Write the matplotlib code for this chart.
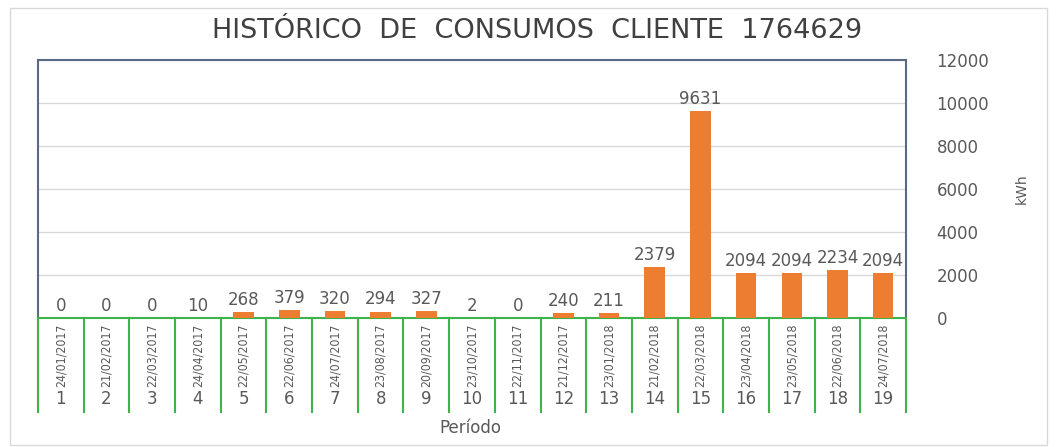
import matplotlib
matplotlib.use("Agg")
import matplotlib.pyplot as plt
from matplotlib.patches import Rectangle

periods = [str(i) for i in range(1, 20)]
dates = ["24/01/2017", "21/02/2017", "22/03/2017", "24/04/2017", "22/05/2017",
         "22/06/2017", "24/07/2017", "23/08/2017", "20/09/2017", "23/10/2017",
         "22/11/2017", "21/12/2017", "23/01/2018", "21/02/2018", "22/03/2018",
         "23/04/2018", "23/05/2018", "22/06/2018", "24/07/2018"]
consumo = [0, 0, 0, 10, 268, 379, 320, 294, 327, 2, 0, 240, 211, 2379, 9631,
           2094, 2094, 2234, 2094]
yticks = [0, 2000, 4000, 6000, 8000, 10000, 12000]

W, H = 1057, 447
fig = plt.figure(figsize=(W / 100, H / 100), dpi=100)
txt = "#595959"

def fx(px):
    return px / W

def fy(py):
    return 1 - py / H

# outer frame
fig.patches.append(Rectangle((fx(10), fy(445)), fx(1047) - fx(10), fy(8) - fy(445),
                             transform=fig.transFigure, fill=False,
                             edgecolor="#d9d9d9", linewidth=1))

left, right, top, bottom = 38, 906, 60, 318
ax = fig.add_axes([fx(left), fy(bottom), fx(right) - fx(left), fy(top) - fy(bottom)])
n = len(consumo)
x = list(range(n))
ax.bar(x, consumo, width=0.45, color="#ed7d31", zorder=3)
ax.set_xlim(-0.5, n - 0.5)
ax.set_ylim(0, 12000)
ax.set_yticks(yticks)
ax.yaxis.tick_right()
ax.tick_params(axis="y", length=0, pad=22, labelsize=12, labelcolor=txt)
ax.set_xticks([])
ax.grid(axis="y", color="#d9d9d9", linewidth=1, zorder=0)
for s in ["left", "top", "right"]:
    ax.spines[s].set_color("#5b6b85")
    ax.spines[s].set_linewidth(1.5)
ax.spines["bottom"].set_color("#3cb44b")
ax.spines["bottom"].set_linewidth(1.5)
ax.yaxis.set_label_position("right")
ax.set_ylabel("kWh", color=txt, fontsize=10, labelpad=18)

for xi, v in zip(x, consumo):
    ax.text(xi, v + 150, str(v), ha="center", va="bottom", fontsize=12,
            color=txt, zorder=4)

fig.text(fx(537), fy(31), "HISTÓRICO  DE  CONSUMOS  CLIENTE  1764629", fontsize=19.5,
         color="#404040", ha="center", va="center")

# category area
cbot = 412
ax2 = fig.add_axes([fx(left), fy(cbot), fx(right) - fx(left), fy(bottom) - fy(cbot)])
ax2.set_xlim(-0.5, n - 0.5)
ax2.set_ylim(0, 1)
ax2.axis("off")
for b in range(n + 1):
    ax2.axvline(b - 0.5, color="#3cb44b", linewidth=1.5, clip_on=False)
for xi, d, p in zip(x, dates, periods):
    ax2.text(xi, 0.6, d, rotation=90, ha="center", va="center", fontsize=8.8,
             color=txt, family="DejaVu Sans", fontstretch="condensed")
    ax2.text(xi, 0.14, p, ha="center", va="center", fontsize=12, color=txt)

fig.text(fx(470), fy(428), "Período", ha="center", va="center", fontsize=12,
         color=txt)

fig.savefig("out.png", dpi=100)
